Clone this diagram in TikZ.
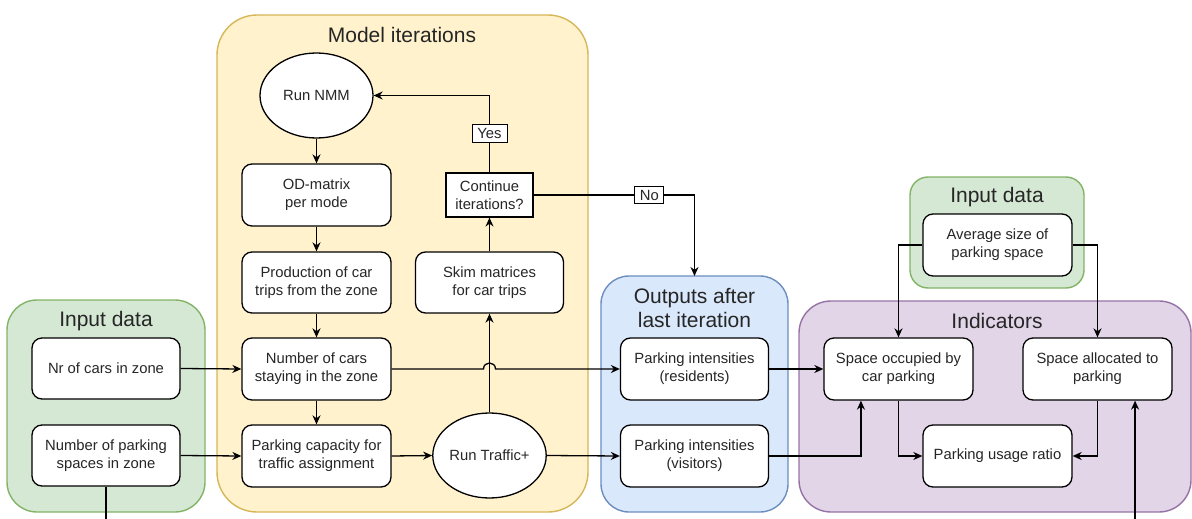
\documentclass[tikz,border=0pt]{standalone}
\usepackage{fontspec}
\setmainfont{Liberation Sans}
\usetikzlibrary{arrows.meta,shapes.geometric,calc}

\definecolor{grnfill}{HTML}{D5E8D4}\definecolor{grnline}{HTML}{82B366}
\definecolor{ylwfill}{HTML}{FFF2CC}\definecolor{ylwline}{HTML}{D6B656}
\definecolor{blufill}{HTML}{DAE8FC}\definecolor{bluline}{HTML}{6C8EBF}
\definecolor{prpfill}{HTML}{E1D5E7}\definecolor{prpline}{HTML}{9673A6}
\definecolor{txt}{HTML}{262626}

\tikzset{
  group/.style={draw, line width=1.4pt, rounded corners=#1},
  grouptitle/.style={text=txt, font=\fontsize{21}{24}\selectfont, align=center, inner sep=0pt},
  box/.style={draw, fill=white, line width=1.3pt, rounded corners=10pt,
    minimum width=149pt, minimum height=62pt, inner sep=0pt, align=center,
    text=txt, font=\fontsize{14.8}{18}\selectfont},
  plainbox/.style={draw, fill=white, line width=1.2pt, minimum width=87pt,
    minimum height=44pt, inner sep=0pt, align=center, text=txt,
    font=\fontsize{14.8}{18}\selectfont},
  oval/.style={draw, fill=white, ellipse, line width=1.3pt, minimum width=113pt,
    minimum height=85pt, inner sep=0pt, align=center, text=txt,
    font=\fontsize{14.8}{18}\selectfont},
  tag/.style={draw, fill=white, line width=1pt, inner sep=0pt, minimum height=18pt,
    text=txt, font=\fontsize{14.8}{16}\selectfont},
  link/.style={line width=1.3pt},
  arr/.style={link, -{Stealth[length=9pt,width=8pt]}},
}

\begin{document}
\begin{tikzpicture}[x=1pt,y=-1pt]
\useasboundingbox (0,0) rectangle (1192,519);

% group panels
\path[group=30pt, fill=grnfill, draw=grnline] (7,300) rectangle (205,512);
\path[group=40pt, fill=ylwfill, draw=ylwline] (217,15) rectangle (588,512);
\path[group=28pt, fill=blufill, draw=bluline] (601,276) rectangle (788,512);
\path[group=18pt, fill=grnfill, draw=grnline] (910,177) rectangle (1084,288);
\path[group=32pt, fill=prpfill, draw=prpline] (799,301) rectangle (1191,512);
\coordinate (outtop) at (694.5,276);

% panel titles
\node[grouptitle] (tin1) at (106,321) {Input data};
\node[grouptitle] (tmod) at (402,35) {Model iterations};
\node[grouptitle] (tout) at (694.5,308) {Outputs after\\last iteration};
\node[grouptitle] (tin2) at (997,197) {Input data};
\node[grouptitle] (tind) at (997,321) {Indicators};

% input data (left)
\node[box, minimum width=148pt, minimum height=61pt] (nrcars) at (106,368.5) {Nr of cars in zone};
\node[box, minimum width=148pt, minimum height=61pt] (nrspaces) at (106,455.5) {Number of parking\\spaces in zone};

% model iterations
\node[oval] (runnmm) at (316.5,95.5) {Run NMM};
\node[box] (od) at (316.5,195) {OD-matrix\\per mode};
\node[box, minimum height=61pt] (prod) at (316.5,282.5) {Production of car\\trips from the zone};
\node[box] (stay) at (316.5,369) {Number of cars\\staying in the zone};
\node[box] (pcap) at (316.5,456) {Parking capacity for\\traffic assignment};
\node[oval, minimum width=112pt] (traffic) at (489.5,455.5) {Run Traffic+};
\node[box, minimum width=148pt, minimum height=61pt] (skim) at (489.5,282.5) {Skim matrices\\for car trips};
\node[plainbox] (cont) at (489.5,195) {Continue\\iterations?};

% outputs
\node[box, minimum width=148pt] (res) at (694.5,369) {Parking intensities\\(residents)};
\node[box, minimum width=148pt] (vis) at (694.5,456) {Parking intensities\\(visitors)};

% input data (right) and indicators
\node[box] (avg) at (997.5,245) {Average size of\\parking space};
\node[box] (occ) at (898.5,369) {Space occupied by\\car parking};
\node[box] (alloc) at (1097.5,369) {Space allocated to\\parking};
\node[box] (ratio) at (997.5,456) {Parking usage ratio};

% loose ends leaving the bottom edge
\coordinate (spacesout) at (nrspaces.south |- 0,519);
\coordinate (occin) at ($(occ.south west)!0.25!(occ.south east)$);
\coordinate (allocin) at ($(alloc.south west)!0.75!(alloc.south east)$);
\coordinate (allocsrc) at (allocin |- 0,519);
\coordinate (hop) at (traffic.north |- stay.east);

% connectors: model chain
\draw[arr] (runnmm.south) -- (od.north);
\draw[arr] (od.south) -- (prod.north);
\draw[arr] (prod.south) -- (stay.north);
\draw[arr] (stay.south) -- (pcap.north);
\draw[arr] (pcap.east) -- (traffic.west);
\draw[arr] (traffic.north) -- (skim.south);
\draw[arr] (skim.north) -- (cont.south);
\draw[arr] (cont.north) -- (cont.north |- runnmm.east)
  node[tag, minimum width=35pt, pos=0.5] (yes) {Yes} -- (runnmm.east);
\draw[arr] (cont.east) -- (outtop |- cont.east)
  node[tag, minimum width=29pt, minimum height=17pt, pos=0.72] (no) {No} -- (outtop);

% connectors: inputs
\draw[arr] (nrcars.east) -- (stay.west);
\draw[arr] (nrspaces.east) -- (pcap.west);
\draw[link] (nrspaces.south) -- (spacesout);

% connectors: outputs
\draw[arr] (stay.east) -- ([xshift=-6pt]hop)
  .. controls ([xshift=-6pt,yshift=8pt]hop) and ([xshift=6pt,yshift=8pt]hop) .. ([xshift=6pt]hop)
  -- (res.west);
\draw[arr] (traffic.east) -- (vis.west);

% connectors: indicators
\draw[arr] (avg.west) -| (occ.north);
\draw[arr] (avg.east) -| (alloc.north);
\draw[arr] (res.east) -- (occ.west);
\draw[arr] (vis.east) -| (occin);
\draw[arr] (occ.south) |- (ratio.west);
\draw[arr] (alloc.south) |- (ratio.east);
\draw[arr] (allocsrc) -- (allocin);
\end{tikzpicture}
\end{document}
